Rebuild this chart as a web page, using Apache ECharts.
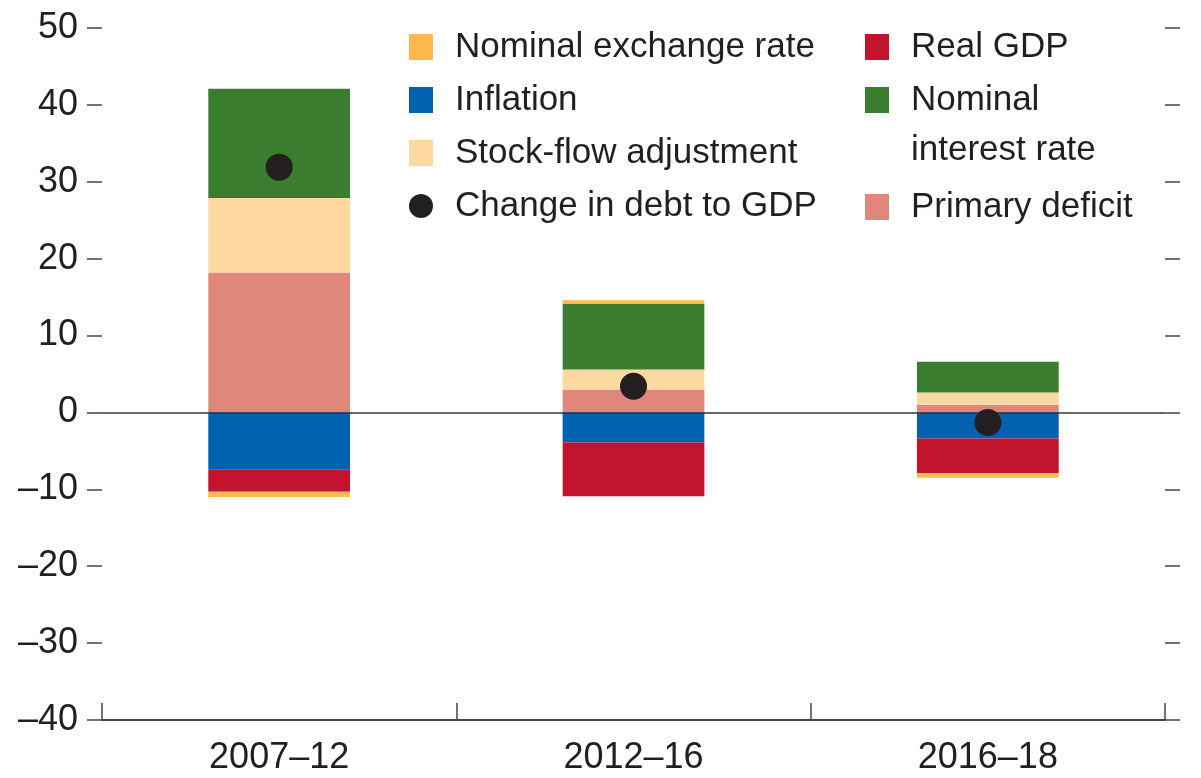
<!DOCTYPE html>
<html>
<head>
<meta charset="utf-8">
<title>Debt decomposition</title>
<script src="https://cdn.jsdelivr.net/npm/echarts@6/dist/echarts.min.js"></script>
<style>
  html, body { margin: 0; padding: 0; background: #fff; }
  #chart { width: 1201px; height: 778px; }
</style>
</head>
<body>
<div id="chart"></div>
<script>
// periods on the x axis
const periods = ['2007–12', '2012–16', '2016–18']

// contributions, percentage points of GDP
const primaryDeficit = [18.2, 3.0, 1.0]
const stockFlow = [9.7, 2.6, 1.6]
const nominalInterest = [14.2, 8.5, 4.0]
const exchangeRate = [-0.7, 0.5, -0.6]
const inflation = [-7.4, -3.9, -3.4]
const realGdp = [-2.9, -7.0, -4.5]
const debtChange = [31.9, 3.4, -1.3]

const yMin = -40
const yMax = 50
const yStep = 10

const FONT = '"Liberation Sans", Arial, sans-serif'
const INK = '#231f20'

const colors = {
  exchange: '#fdb94e',
  realGdp: '#c3142d',
  inflation: '#0061af',
  interest: '#3a7d2e',
  stockFlow: '#fed8a1',
  primary: '#de877a',
}

const chart = echarts.init(document.getElementById('chart'))

const legendText = {
  color: INK,
  fontFamily: FONT,
  fontSize: 35,
  lineHeight: 50,
  padding: [0, 0, 0, 17],
}

function bar(name, data, color, extra) {
  return Object.assign({
    name,
    type: 'bar',
    stack: 'total',
    barWidth: '40%',
    data,
    itemStyle: { color },
  }, extra || {})
}

chart.setOption({
  animation: false,
  backgroundColor: '#fff',
  grid: { left: 102, right: 36, top: 28, bottom: 58, containLabel: false },
  legend: [
    {
      orient: 'vertical',
      left: 404,
      top: 17,
      itemGap: 3,
      itemWidth: 24,
      itemHeight: 26,
      textStyle: legendText,
      data: [
        { name: 'Nominal exchange rate', icon: 'rect' },
        { name: 'Inflation', icon: 'rect' },
        { name: 'Stock-flow adjustment', icon: 'rect' },
        { name: 'Change in debt to GDP', icon: 'circle' },
      ],
    },
    {
      left: 860,
      top: 17,
      itemWidth: 24,
      itemHeight: 26,
      textStyle: legendText,
      data: [{ name: 'Real GDP', icon: 'rect' }],
    },
    {
      left: 860,
      top: 20,
      itemWidth: 24,
      itemHeight: 26,
      textStyle: legendText,
      // empty first line keeps "Nominal" level with the icon
      formatter: () => '\nNominal\ninterest rate',
      data: [{ name: 'Nominal interest rate', icon: 'rect' }],
    },
    {
      left: 860,
      top: 177,
      itemWidth: 24,
      itemHeight: 26,
      textStyle: legendText,
      data: [{ name: 'Primary deficit', icon: 'rect' }],
    },
  ],
  xAxis: {
    type: 'category',
    data: periods,
    boundaryGap: true,
    axisLine: { show: true, onZero: false, lineStyle: { color: '#444', width: 2 } },
    axisTick: { show: true, inside: true, length: 17, lineStyle: { color: '#444', width: 1.5 } },
    axisLabel: { color: INK, fontFamily: FONT, fontSize: 36, margin: 20 },
    splitLine: { show: false },
  },
  yAxis: [
    {
      type: 'value',
      position: 'left',
      min: yMin,
      max: yMax,
      interval: yStep,
      axisLine: { show: false },
      axisTick: { show: true, inside: false, length: 15, lineStyle: { color: '#444', width: 1.5 } },
      axisLabel: {
        color: INK,
        fontFamily: FONT,
        fontSize: 36,
        margin: 24,
        formatter: (v) => (v < 0 ? '–' + Math.abs(v) : String(v)),
      },
      splitLine: { show: false },
    },
    {
      type: 'value',
      position: 'right',
      min: yMin,
      max: yMax,
      interval: yStep,
      axisLine: { show: false },
      axisTick: { show: true, inside: false, length: 15, lineStyle: { color: '#444', width: 1.5 } },
      axisLabel: { show: false },
      splitLine: { show: false },
    },
  ],
  series: [
    bar('Primary deficit', primaryDeficit, colors.primary, {
      markLine: {
        silent: true,
        symbol: 'none',
        label: { show: false },
        lineStyle: { color: '#333', width: 1.5, type: 'solid' },
        data: [{ yAxis: 0 }],
        z: 5,
      },
    }),
    bar('Inflation', inflation, colors.inflation),
    bar('Stock-flow adjustment', stockFlow, colors.stockFlow),
    bar('Real GDP', realGdp, colors.realGdp),
    bar('Nominal interest rate', nominalInterest, colors.interest),
    bar('Nominal exchange rate', exchangeRate, colors.exchange),
    {
      name: 'Change in debt to GDP',
      type: 'scatter',
      data: debtChange,
      symbol: 'circle',
      symbolSize: 27,
      itemStyle: { color: INK, opacity: 1 },
      z: 10,
    },
  ],
})
</script>
</body>
</html>
